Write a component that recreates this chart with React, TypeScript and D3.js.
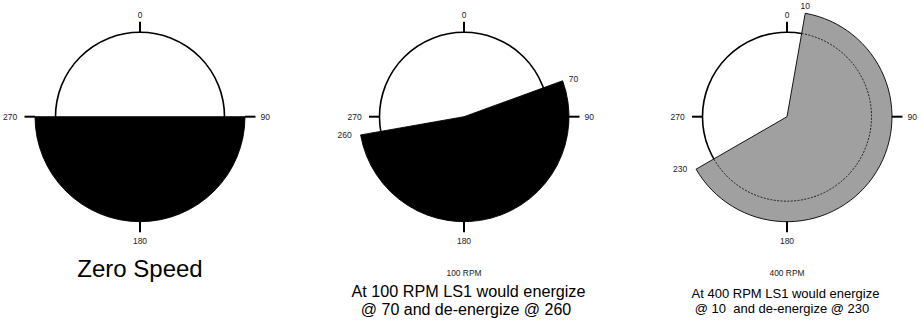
import React from 'react';
import * as d3 from 'd3';

// ---- data ----
const panelNames = ['zero', 'rpm100', 'rpm400'];
const sectorStart = [90, 70, 10];
const sectorEnd = [270, 260, 240];
const sectorFill = ['#000000', '#000000', '#a0a0a0'];
const edgeLabelStart = ['', '70', '10'];
const edgeLabelEnd = ['', '260', '230'];
const axisTicks = [0, 90, 180, 270];
const speedLabels = ['', '100 RPM', '400 RPM'];
const captionLine1 = ['Zero Speed', 'At 100 RPM LS1 would energize', 'At 400 RPM LS1 would energize'];
const captionLine2 = ['', '@ 70 and de-energize @ 260', '@ 10  and de-energize @ 230'];

const W = 921;
const H = 323;
const centersX = [140, 464, 787];
const CY = 116.7;
const R_CIRCLE = 84.5;
const R_SECTOR = 105;
const TICK_LEN = 10.5;
const FONT = 'Liberation Sans, Arial, Helvetica, sans-serif';

const angle = d3.scaleLinear().domain([0, 360]).range([0, 2 * Math.PI]);

function pt(cx: number, deg: number, r: number): [number, number] {
  const a = angle(deg);
  return [cx + r * Math.sin(a), CY - r * Math.cos(a)];
}

function Panel({ i }: { i: number }) {
  const cx = centersX[i];
  const s = sectorStart[i];
  const e = sectorEnd[i];
  const sectorPath = d3.arc()({
    innerRadius: 0,
    outerRadius: R_SECTOR,
    startAngle: angle(s),
    endAngle: angle(e),
  } as any) as string;

  const p = d3.path();
  const a0 = angle(s) - Math.PI / 2;
  const a1 = angle(e) - Math.PI / 2;
  p.moveTo(cx + R_CIRCLE * Math.cos(a0), CY + R_CIRCLE * Math.sin(a0));
  p.arc(cx, CY, R_CIRCLE, a0, a1, false);

  const edgeLabel = (deg: number, text: string, key: string) => {
    if (!text) return null;
    const [x, y] = pt(cx, deg, R_SECTOR);
    const sn = Math.sin(angle(deg));
    const cs = Math.cos(angle(deg));
    let tx = x, ty = y, anchor = 'middle';
    if (sn > 0.5) { tx = x + 6; ty = y - 3 * Math.max(cs, 0) - 1; anchor = 'start'; }
    else if (sn < -0.5) { tx = x - 8.8; anchor = 'end'; }
    else { ty = y - 7.6; }
    return (
      <text key={key} x={tx} y={ty} textAnchor={anchor} dominantBaseline="central"
        fontSize={8.5} fill="#222" fontFamily={FONT}>{text}</text>
    );
  };

  return (
    <g>
      <circle cx={cx} cy={CY} r={R_CIRCLE} fill="none" stroke="#000" strokeWidth={1.6} />
      <path d={sectorPath} transform={`translate(${cx},${CY})`} fill={sectorFill[i]}
        stroke="#000" strokeWidth={0.9} />
      <path d={p.toString()} fill="none" stroke="#000" strokeWidth={0.8} strokeDasharray="2,1.4" />
      {axisTicks.map((t) => {
        const covered = t >= s && t <= e;
        const r0 = covered ? R_SECTOR : R_CIRCLE;
        const r1 = r0 + TICK_LEN;
        const [x0, y0] = pt(cx, t, r0);
        const [x1, y1] = pt(cx, t, r1);
        let lx = x1, ly = y1, anchor = 'middle';
        if (t === 0) ly = y1 - 7;
        else if (t === 180) ly = y1 + 8.5;
        else if (t === 90) { lx = x1 + 5; anchor = 'start'; }
        else { lx = x1 - 7.3; anchor = 'end'; }
        return (
          <g key={t}>
            <line x1={x0} y1={y0} x2={x1} y2={y1} stroke="#000" strokeWidth={2} />
            <text x={lx} y={ly} textAnchor={anchor} dominantBaseline="central" fontSize={8.5}
              fill="#222" fontFamily={FONT}>{String(t)}</text>
          </g>
        );
      })}
      {edgeLabel(s, edgeLabelStart[i], 'es')}
      {edgeLabel(e, edgeLabelEnd[i], 'ee')}
      {i === 0 ? (
        <text x={cx} y={276.7} textAnchor="middle" fontSize={24} fill="#000" fontFamily={FONT}>
          {captionLine1[i]}
        </text>
      ) : (
        <g>
          <text x={cx} y={276} textAnchor="middle" fontSize={8.4} fill="#222" fontFamily={FONT}>
            {speedLabels[i]}
          </text>
          <text x={i === 1 ? cx + 4.5 : cx - 1.5} y={i === 1 ? 297 : 298} textAnchor="middle"
            fontSize={i === 1 ? 16.2 : 13} fill="#000" fontFamily={FONT}
            style={{ whiteSpace: 'pre' }}>
            {captionLine1[i]}
          </text>
          <text x={i === 1 ? cx + 2 : cx - 5} y={i === 1 ? 315.3 : 312.7} textAnchor="middle"
            fontSize={i === 1 ? 16 : 13} fill="#000" fontFamily={FONT}
            style={{ whiteSpace: 'pre' }}>
            {captionLine2[i]}
          </text>
        </g>
      )}
    </g>
  );
}

export default function App() {
  return (
    <svg width={W} height={H} style={{ position: 'absolute', left: 0, top: 0, background: '#fff' }}>
      <rect width={W} height={H} fill="#fff" />
      {panelNames.map((n, i) => <Panel key={n} i={i} />)}
    </svg>
  );
}
